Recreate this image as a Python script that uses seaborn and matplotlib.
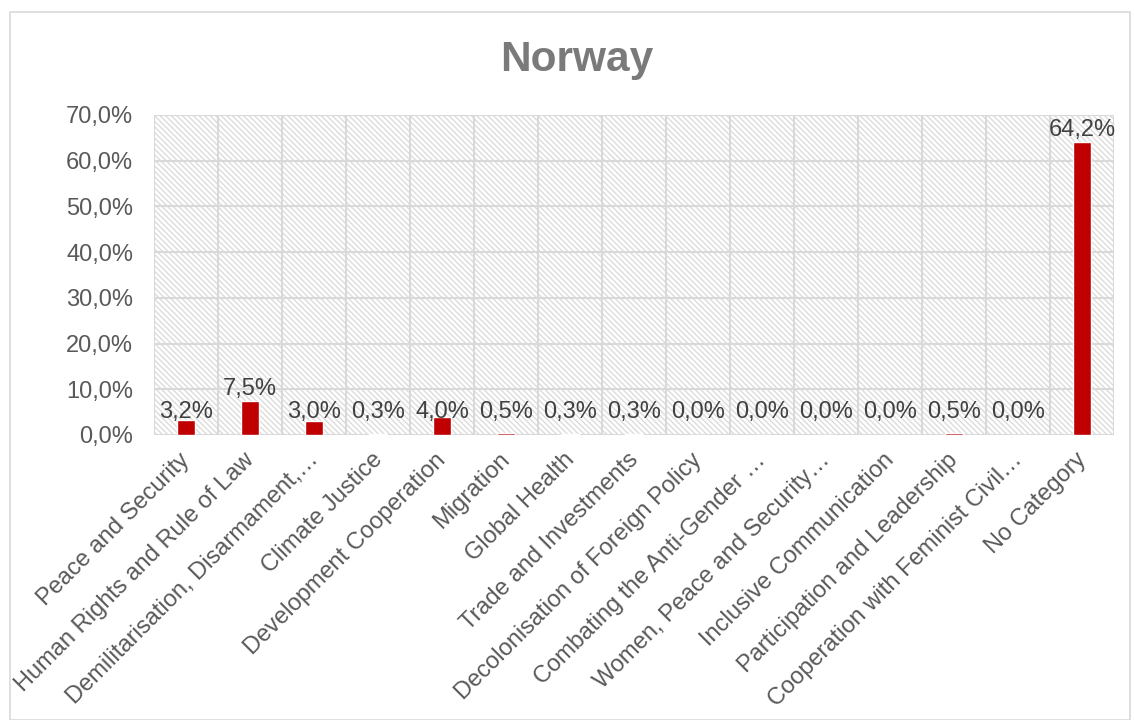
import matplotlib
matplotlib.use("Agg")
import matplotlib.pyplot as plt
import seaborn as sns
import pandas as pd
from matplotlib.patches import Rectangle
from matplotlib.transforms import ScaledTranslation

categories = [
    "Peace and Security",
    "Human Rights and Rule of Law",
    "Demilitarisation, Disarmament,\u2026",
    "Climate Justice",
    "Development Cooperation",
    "Migration",
    "Global Health",
    "Trade and Investments",
    "Decolonisation of Foreign Policy",
    "Combating the Anti-Gender \u2026",
    "Women, Peace and Security\u2026",
    "Inclusive Communication",
    "Participation and Leadership",
    "Cooperation with Feminist Civil\u2026",
    "No Category",
]
values = [3.2, 7.5, 3.0, 0.3, 4.0, 0.5, 0.3, 0.3, 0.0, 0.0, 0.0, 0.0, 0.5, 0.0, 64.2]
y_ticks = [0, 10, 20, 30, 40, 50, 60, 70]

sns.set_theme(style="white")
plt.rcParams['font.family'] = ['Liberation Sans', 'DejaVu Sans']
plt.rcParams['hatch.linewidth'] = 1.0

df = pd.DataFrame({"cat": categories, "val": values})

fig = plt.figure(figsize=(11.34, 7.2), dpi=100)
ax = fig.add_axes([154/1134, 1-435/720, (1114-154)/1134, (435-115)/720])

# outer frame
fig.patches.append(Rectangle((10/1134, 0), (1130-10)/1134, 1-12/720, transform=fig.transFigure,
                             fill=False, edgecolor='#d9d9d9', linewidth=1.2, zorder=0))

# hatched background
ax.add_patch(Rectangle((0, 0), 1, 1, transform=ax.transAxes, facecolor='white',
                       edgecolor='#dcdcdc', linewidth=0, hatch='\\\\\\\\\\\\', zorder=0))

sns.barplot(data=df, x="cat", y="val", color="#c00000", width=0.28, saturation=1, ax=ax, zorder=3)

ax.set_ylim(0, 70)
ax.set_xlim(-0.5, len(categories) - 0.5)
ax.set_yticks(y_ticks)
ax.set_yticklabels([f"{t:.1f}%".replace('.', ',') for t in y_ticks], fontsize=17, color='#595959')

# grid
for t in y_ticks:
    ax.axhline(t, color='#d9d9d9', linewidth=1.5, zorder=1)
for i in range(len(categories) + 1):
    ax.axvline(i - 0.5, color='#d9d9d9', linewidth=1.5, zorder=1)

for s in ax.spines.values():
    s.set_visible(False)

ax.set_xticks(range(len(categories)))
ax.set_xticklabels(categories, rotation=45, ha='right', rotation_mode='anchor',
                   fontsize=17, color='#595959')
ax.tick_params(axis='x', pad=10, length=0)
ax.tick_params(axis='y', pad=15, length=0)
offset = ScaledTranslation(-7/100, 0, fig.dpi_scale_trans)
for lab in ax.get_xticklabels():
    lab.set_transform(lab.get_transform() + offset)
ax.set_xlabel("")
ax.set_ylabel("")

for i, v in enumerate(values):
    ypos = 2.6 if v < 5 else v + 0.1
    ax.text(i, ypos, f"{v:.1f}%".replace('.', ','), ha='center', va='bottom',
            fontsize=17, color='#404040', zorder=4)

fig.text(577/1134, 1-60/720, "Norway", ha='center', va='center', fontsize=30.5,
         fontweight='bold', color='#7a7a7a')

fig.savefig("out.png", dpi=100)
